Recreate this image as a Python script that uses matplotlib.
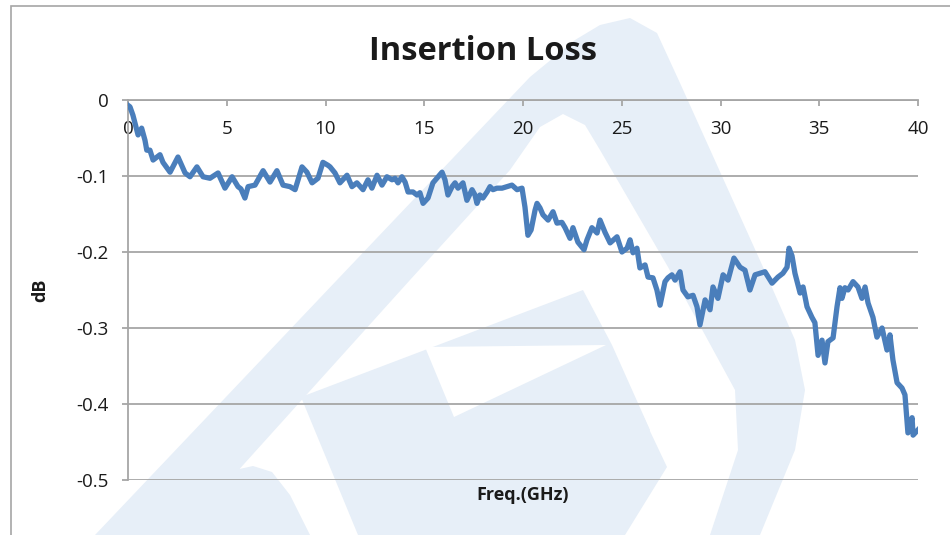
import matplotlib
matplotlib.use("Agg")
import matplotlib.pyplot as plt
from matplotlib.patches import Polygon, Rectangle

# insertion loss trace
freq = [0.00, 0.10, 0.25, 0.35, 0.51, 0.69, 0.86, 0.95, 1.11, 1.27, 1.62, 1.77, 2.13, 2.53, 2.89,
        3.14, 3.49, 3.80, 4.15, 4.56, 4.91, 5.27, 5.57, 5.72, 5.92, 6.08, 6.43, 6.84, 7.19, 7.54,
        7.85, 8.20, 8.46, 8.81, 9.06, 9.32, 9.62, 9.87, 10.13, 10.23, 10.48, 10.73, 11.09, 11.34,
        11.59, 11.90, 12.15, 12.35, 12.61, 12.86, 13.11, 13.37, 13.52, 13.67, 13.87, 14.03, 14.18,
        14.43, 14.63, 14.78, 14.94, 15.19, 15.44, 15.70, 15.90, 16.05, 16.20, 16.41, 16.56, 16.71,
        16.96, 17.16, 17.42, 17.57, 17.67, 17.82, 17.97, 18.18, 18.33, 18.48, 18.68, 18.94, 19.19,
        19.44, 19.70, 19.95, 20.10, 20.25, 20.41, 20.61, 20.71, 20.86, 21.01, 21.27, 21.52, 21.72,
        21.97, 22.13, 22.38, 22.53, 22.78, 23.09, 23.24, 23.49, 23.75, 23.90, 24.15, 24.41, 24.76,
        25.01, 25.27, 25.42, 25.57, 25.77, 25.92, 26.18, 26.33, 26.58, 26.78, 26.94, 27.19, 27.34,
        27.54, 27.70, 27.95, 28.10, 28.35, 28.61, 28.81, 28.96, 29.22, 29.47, 29.62, 29.87, 30.13,
        30.38, 30.68, 30.99, 31.24, 31.49, 31.75, 32.00, 32.25, 32.61, 32.91, 33.16, 33.37, 33.47,
        33.62, 33.77, 34.03, 34.18, 34.38, 34.63, 34.78, 34.94, 35.14, 35.29, 35.44, 35.70, 35.90,
        36.05, 36.15, 36.30, 36.46, 36.71, 36.96, 37.16, 37.32, 37.47, 37.72, 37.92, 38.18, 38.43,
        38.58, 38.73, 38.94, 39.19, 39.34, 39.49, 39.70, 39.75, 40.00]
loss = [-0.007, -0.009, -0.020, -0.030, -0.046, -0.037, -0.053, -0.066, -0.066, -0.079, -0.072,
        -0.082, -0.095, -0.075, -0.096, -0.101, -0.088, -0.101, -0.103, -0.096, -0.116, -0.101,
        -0.114, -0.117, -0.129, -0.114, -0.112, -0.093, -0.108, -0.093, -0.112, -0.114, -0.118,
        -0.088, -0.095, -0.109, -0.103, -0.082, -0.086, -0.088, -0.096, -0.109, -0.099, -0.114,
        -0.109, -0.118, -0.105, -0.116, -0.099, -0.112, -0.101, -0.105, -0.103, -0.109, -0.101,
        -0.108, -0.121, -0.121, -0.125, -0.122, -0.136, -0.129, -0.109, -0.101, -0.095, -0.105,
        -0.125, -0.114, -0.109, -0.116, -0.109, -0.132, -0.118, -0.125, -0.136, -0.125, -0.129,
        -0.121, -0.114, -0.118, -0.116, -0.116, -0.114, -0.112, -0.118, -0.116, -0.141, -0.178,
        -0.171, -0.145, -0.136, -0.142, -0.151, -0.158, -0.147, -0.162, -0.161, -0.168, -0.182,
        -0.168, -0.187, -0.197, -0.184, -0.168, -0.175, -0.158, -0.174, -0.188, -0.180, -0.200,
        -0.195, -0.184, -0.201, -0.195, -0.221, -0.217, -0.233, -0.234, -0.250, -0.270, -0.239,
        -0.234, -0.230, -0.237, -0.226, -0.250, -0.259, -0.257, -0.272, -0.296, -0.263, -0.276,
        -0.246, -0.261, -0.230, -0.237, -0.208, -0.220, -0.224, -0.250, -0.230, -0.228, -0.226,
        -0.241, -0.233, -0.228, -0.220, -0.195, -0.205, -0.228, -0.254, -0.246, -0.272, -0.286,
        -0.293, -0.336, -0.316, -0.346, -0.318, -0.313, -0.272, -0.247, -0.261, -0.247, -0.250,
        -0.239, -0.246, -0.261, -0.246, -0.267, -0.286, -0.312, -0.300, -0.329, -0.309, -0.342,
        -0.372, -0.379, -0.388, -0.438, -0.418, -0.441, -0.434]

xticks = [0, 5, 10, 15, 20, 25, 30, 35, 40]
yticks = [0, -0.1, -0.2, -0.3, -0.4, -0.5]
ytick_labels = ["0", "-0.1", "-0.2", "-0.3", "-0.4", "-0.5"]

W, H = 950, 535
fig = plt.figure(figsize=(9.5, 5.35), dpi=100)
plt.rcParams['font.family'] = ['Open Sans', 'DejaVu Sans']


def px(pts):
    # pixel coords (y down) -> figure fraction
    return [(x / W, 1 - y / H) for x, y in pts]


# faint logo watermark behind the chart
wm = '#e7eff8'
logo = [
    (wm, [(95, 535), (337, 280), (530, 77), (575, 40), (600, 25), (630, 18), (657, 33), (680, 83),
          (763, 267), (795, 340), (805, 390), (795, 450), (760, 535), (710, 535), (738, 450),
          (735, 390), (668, 267), (600, 150), (585, 125), (563, 114), (540, 127), (510, 170),
          (410, 280), (180, 535)]),
    (wm, [(301, 397), (583, 290), (612, 345), (650, 430), (580, 535), (358, 535)]),
    ('white', [(425, 347), (606, 345), (454, 417)]),
    (wm, [(483, 467), (640, 410), (667, 467), (625, 535), (540, 535)]),
    (wm, [(160, 535), (200, 490), (235, 470), (253, 466), (272, 472), (290, 495), (310, 535)]),
]
for col, s in logo:
    fig.patches.append(Polygon(px(s), closed=True, transform=fig.transFigure,
                               facecolor=col, edgecolor='none', zorder=-2))

fig.patches.append(Rectangle((10.5 / W, -0.05), 1.0, 1 - 6 / H + 0.05, transform=fig.transFigure,
                             fill=False, edgecolor='#a6a6a6', lw=1.2, zorder=-1))

ax = fig.add_axes([128 / W, 1 - 480 / H, 790 / W, 380 / H])
ax.set_zorder(1)
ax.patch.set_alpha(0)
ax.plot(freq, loss, color='#4a7ebb', lw=3.8, solid_joinstyle='round', zorder=3)

ax.set_xlim(0, 40)
ax.set_ylim(-0.5, 0)
ax.set_xticks(xticks)
ax.set_yticks(yticks)
ax.set_yticklabels(ytick_labels)

ax.spines['bottom'].set_position(('data', 0))
ax.spines['top'].set_visible(False)
ax.spines['right'].set_visible(False)
for side in ['bottom', 'left']:
    ax.spines[side].set_color('#a6a6a6')
    ax.spines[side].set_linewidth(1.3)

ax.yaxis.grid(True, color='#a6a6a6', lw=1.3)
ax.set_axisbelow(True)
ax.tick_params(axis='x', direction='out', length=4.5, width=1.3, color='#a6a6a6',
               pad=10, labelsize=13.5, labelcolor='#1a1a1a')
ax.tick_params(axis='y', direction='out', length=4, width=1.3, color='#a6a6a6',
               pad=10, labelsize=13.5, labelcolor='#1a1a1a')

ax.text(0.5, -0.04, 'Freq.(GHz)', transform=ax.transAxes, ha='center', va='center',
        fontsize=13, fontweight='bold', color='#1a1a1a')
fig.text(40 / W, 1 - 290 / H, 'dB', rotation=90, ha='center', va='center',
         fontsize=13, fontweight='bold', color='#1a1a1a')
fig.text(483 / W, 1 - 51 / H, 'Insertion Loss', ha='center', va='center',
         fontsize=23.5, fontweight='bold', color='#1a1a1a')

fig.savefig('out.png', dpi=100)
